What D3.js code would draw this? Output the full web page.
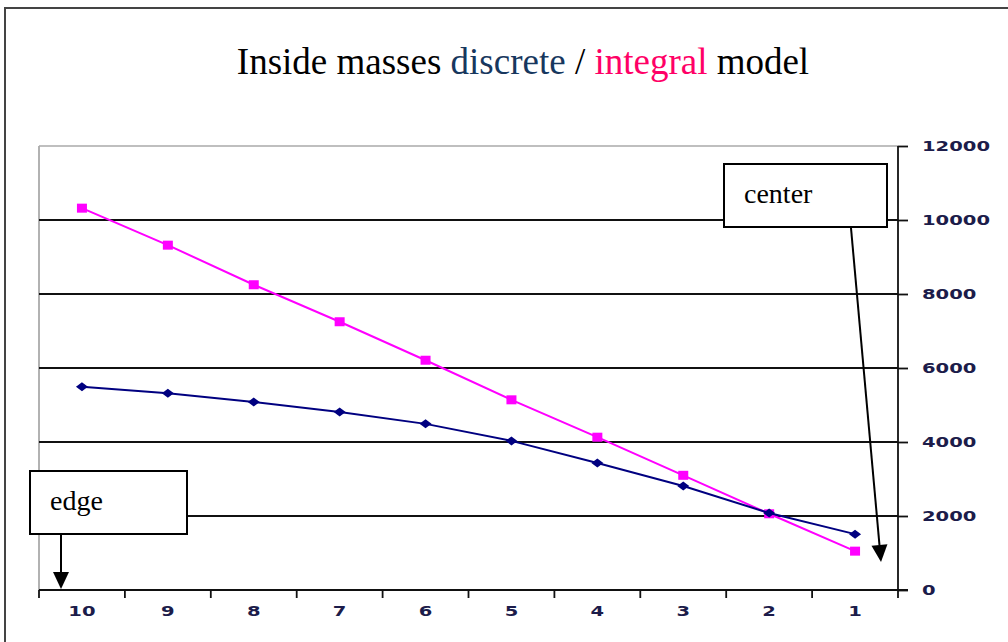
<!DOCTYPE html>
<html>
<head>
<meta charset="utf-8">
<script src="https://cdn.jsdelivr.net/npm/d3@7"></script>
<style>
  body { margin: 0; background: #fff; }
  svg { display: block; }
</style>
</head>
<body>
<svg id="chart" width="1008" height="642"></svg>
<script>
// categories run from edge (10) to center (1)
const categories = ["10", "9", "8", "7", "6", "5", "4", "3", "2", "1"];
const discrete = [5490, 5320, 5080, 4810, 4490, 4030, 3430, 2810, 2080, 1510];
const integral = [10320, 9320, 8250, 7250, 6210, 5140, 4130, 3100, 2060, 1050];
const yTicks = [0, 2000, 4000, 6000, 8000, 10000, 12000];

let svg = d3.select("#chart");
let plotLeft = 39, plotRight = 898, plotTop = 146, plotBottom = 590;

// outer frame
svg.append("rect")
    .attr("x", 5).attr("y", 8)
    .attr("width", 1010).attr("height", 640)
    .attr("fill", "none")
    .attr("stroke", "#444")
    .attr("stroke-width", 2);

// title
let title = svg.append("text")
    .attr("x", 523)
    .attr("y", 74)
    .attr("text-anchor", "middle")
    .style("font-family", "'Liberation Serif', 'Times New Roman', serif")
    .style("font-size", "37px");
title.append("tspan").text("Inside masses ");
title.append("tspan").attr("fill", "#17375e").text("discrete");
title.append("tspan").text(" / ");
title.append("tspan").attr("fill", "#ff0066").text("integral");
title.append("tspan").text(" model");

let x = d3.scaleBand()
    .domain(categories)
    .range([plotLeft, plotRight]);

let y = d3.scaleLinear()
    .domain([0, 12000])
    .range([plotBottom, plotTop]);

// plot frame (grey left / top)
svg.append("line")
    .attr("x1", plotLeft).attr("x2", plotLeft)
    .attr("y1", plotTop).attr("y2", plotBottom)
    .attr("stroke", "#999").attr("stroke-width", 1.5);
svg.append("line")
    .attr("x1", plotLeft).attr("x2", plotRight)
    .attr("y1", plotTop).attr("y2", plotTop)
    .attr("stroke", "#aaa").attr("stroke-width", 1.5);

// gridlines
svg.append("g")
    .selectAll("line")
    .data(yTicks.filter(d => d > 0 && d < 12000))
    .enter()
    .append("line")
    .attr("x1", plotLeft).attr("x2", plotRight)
    .attr("y1", d => y(d)).attr("y2", d => y(d))
    .attr("stroke", "#111")
    .attr("stroke-width", 1.8);

// wide, stretched tick digits like the original
function styleTickText(sel) {
    sel.attr("fill", "#1c1c4a")
        .style("font-family", "'DejaVu Sans', Verdana, sans-serif")
        .style("font-size", "14px")
        .style("font-weight", "bold")
        .attr("lengthAdjust", "spacingAndGlyphs")
        .attr("textLength", function () { return this.textContent.length * 13.6; });
}

// right y axis
let yAxis = svg.append("g")
    .attr("transform", `translate(${plotRight},0)`)
    .call(d3.axisRight(y).tickValues(yTicks).tickFormat(d3.format("d")).tickSize(10).tickPadding(14));
yAxis.select(".domain").attr("stroke", "#111").attr("stroke-width", 1.8)
    .attr("d", `M0,${plotTop}V${plotBottom + 8}`);
yAxis.selectAll(".tick line").attr("stroke", "#111").attr("stroke-width", 1.8);
yAxis.selectAll(".tick text").call(styleTickText);

// bottom x axis
let xAxis = svg.append("g")
    .attr("transform", `translate(0,${plotBottom})`)
    .call(d3.axisBottom(x).tickSize(0).tickPadding(16));
xAxis.select(".domain").attr("stroke", "#111").attr("stroke-width", 1.8)
    .attr("d", `M${plotLeft},0H${plotRight + 10}`);
xAxis.selectAll(".tick text").call(styleTickText);
// ticks at category boundaries
svg.append("g")
    .selectAll("line")
    .data(categories)
    .enter()
    .append("line")
    .attr("x1", d => x(d)).attr("x2", d => x(d))
    .attr("y1", plotBottom).attr("y2", plotBottom + 8)
    .attr("stroke", "#111").attr("stroke-width", 1.8);

let cx = d => x(d) + x.bandwidth() / 2;

let seriesLine = d3.line()
    .x((d, i) => cx(categories[i]))
    .y(d => y(d));

// integral series
svg.append("path")
    .datum(integral)
    .attr("d", seriesLine)
    .attr("fill", "none")
    .attr("stroke", "#ff00ff")
    .attr("stroke-width", 2);
svg.append("g")
    .selectAll("rect")
    .data(integral)
    .enter()
    .append("rect")
    .attr("x", (d, i) => cx(categories[i]) - 5)
    .attr("y", d => y(d) - 4.5)
    .attr("width", 10).attr("height", 9)
    .attr("fill", "#ff00ff");

// discrete series
svg.append("path")
    .datum(discrete)
    .attr("d", seriesLine)
    .attr("fill", "none")
    .attr("stroke", "#000080")
    .attr("stroke-width", 2);
svg.append("g")
    .selectAll("path")
    .data(discrete)
    .enter()
    .append("path")
    .attr("transform", (d, i) => `translate(${cx(categories[i])},${y(d)})`)
    .attr("d", "M-6,0L0,-4.5L6,0L0,4.5Z")
    .attr("fill", "#000080");

// annotation boxes and arrows
function arrow(x1, y1, x2, y2) {
    let ang = Math.atan2(y2 - y1, x2 - x1);
    let len = 17, w = 8;
    let bx = x2 - len * Math.cos(ang), by = y2 - len * Math.sin(ang);
    svg.append("line")
        .attr("x1", x1).attr("y1", y1).attr("x2", bx).attr("y2", by)
        .attr("stroke", "#000").attr("stroke-width", 2);
    let px = -Math.sin(ang) * w, py = Math.cos(ang) * w;
    svg.append("path")
        .attr("d", `M${x2},${y2}L${bx + px},${by + py}L${bx - px},${by - py}Z`)
        .attr("fill", "#000");
}

function note(bx, by, bw, bh, label) {
    svg.append("rect")
        .attr("x", bx).attr("y", by)
        .attr("width", bw).attr("height", bh)
        .attr("fill", "#fff")
        .attr("stroke", "#000")
        .attr("stroke-width", 2);
    svg.append("text")
        .attr("x", bx + 20)
        .attr("y", by + 39)
        .style("font-family", "'Liberation Serif', 'Times New Roman', serif")
        .style("font-size", "28px")
        .text(label);
}

arrow(851, 228, 881, 562);
note(724, 164, 163, 63, "center");
arrow(61, 534, 61, 589);
note(30, 471, 157, 63, "edge");
</script>
</body>
</html>
